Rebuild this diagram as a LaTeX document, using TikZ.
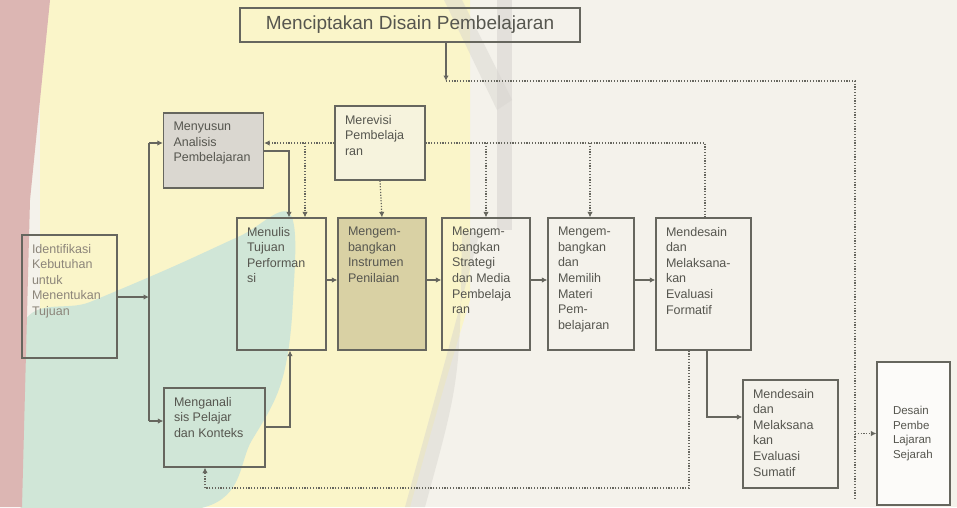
\documentclass[tikz,border=0pt]{standalone}
\usepackage{fontspec}
\setmainfont{Liberation Sans}
\usetikzlibrary{arrows.meta}

\definecolor{ink}{HTML}{66665E}
\definecolor{txt}{HTML}{56564F}
\definecolor{faint}{HTML}{8C857A}
\definecolor{paper}{HTML}{F4F2EB}
\definecolor{wmyellow}{HTML}{FAF5C9}
\definecolor{wmteal}{HTML}{D0E6D7}
\definecolor{wmpink}{HTML}{DCB6B3}
\definecolor{wmgrey}{HTML}{D6D3CE}
\definecolor{tanfill}{HTML}{D9D1A4}
\definecolor{greyfill}{HTML}{DAD7D0}

% top-aligned text block of a given width and height
\newcommand{\blk}[3]{\parbox[c][#2][t]{#1}{\raggedright #3}}

\begin{document}
\begin{tikzpicture}[x=1pt,y=-1pt,
  box/.style={draw=ink, line width=1.25pt, inner xsep=10pt, inner ysep=9pt,
              text=txt, font=\fontsize{12.5}{15.6}\selectfont},
  flow/.style={draw=ink, line width=1.2pt, -{Latex[length=5.5pt,width=5.5pt]}},
  loopline/.style={draw=ink, line width=1.2pt, dash pattern=on 1.2pt off 1.6pt},
  loopflow/.style={loopline, -{Latex[length=5.5pt,width=5.5pt]}}]

% page and watermark
\useasboundingbox (0,0) rectangle (957,507);
\fill[paper] (0,0) rectangle (957,507);
\fill[wmyellow] (40,0) -- (470,0) -- (470,300) .. controls (440,400) .. (410,507) -- (40,507) -- cycle;
\fill[wmteal] plot[smooth cycle, tension=0.6] coordinates
  {(20,330) (90,302) (170,268) (240,236) (290,214) (293,300) (282,380)
   (252,440) (205,507) (20,507)};
\fill[wmteal] (20,430) rectangle (200,507);
\fill[wmpink] (0,0) -- (50,0) -- (30,200) -- (22,507) -- (0,507) -- cycle;
\fill[wmgrey, opacity=0.55] (497,0) rectangle (512,230);
\fill[wmgrey, opacity=0.45] (462,232) .. controls (460,380) .. (425,507) -- (405,507) .. controls (440,380) .. (480,232) -- cycle;
\fill[wmgrey, opacity=0.45] (444,0) -- (462,0) -- (512,100) -- (497,110) -- cycle;

% boxes
\node[box, font=\fontsize{19}{22}\selectfont, minimum width=340pt, minimum height=34pt,
      inner sep=0pt] (top) at (410,25) {Menciptakan Disain Pembelajaran};
\node[box, text=faint] (idn) at (69.5,296.5)
  {\blk{75pt}{105pt}{Identifikasi\\Kebutuhan\\untuk\\Menentukan\\Tujuan}};
\node[box, fill=greyfill] (anl) at (213.5,150.5)
  {\blk{80pt}{57pt}{Menyusun\\Analisis\\Pembelajaran}};
\node[box, fill=paper!60!wmyellow] (rev) at (380,143)
  {\blk{70pt}{56pt}{Merevisi\\Pembelaja\\ran}};
\node[box] (tuj) at (281.5,284)
  {\blk{69pt}{114pt}{Menulis\\Tujuan\\Performan\\si}};
\node[box, fill=tanfill] (ins) at (382,284)
  {\blk{68pt}{114pt}{Mengem-\\bangkan\\Instrumen\\Penilaian}};
\node[box] (str) at (486,284)
  {\blk{68pt}{114pt}{Mengem-\\bangkan\\Strategi\\dan Media\\Pembelaja\\ran}};
\node[box] (mat) at (591,284)
  {\blk{66pt}{114pt}{Mengem-\\bangkan\\dan\\Memilih\\Materi\\Pem-\\belajaran}};
\node[box] (frm) at (703.5,284)
  {\blk{75pt}{114pt}{Mendesain\\dan\\Melaksana-\\kan\\Evaluasi\\Formatif}};
\node[box] (ana) at (214.5,427.5)
  {\blk{81pt}{61pt}{Menganali\\sis Pelajar\\dan Konteks}};
\node[box] (sum) at (790.5,434)
  {\blk{75pt}{90pt}{Mendesain\\dan\\Melaksana\\kan\\Evaluasi\\Sumatif}};
\node[box, fill=white!70!paper, inner xsep=0pt, inner ysep=0pt,
      font=\fontsize{11.5}{14.5}\selectfont, minimum height=143pt] (des) at (913.5,433.5)
  {\parbox{73pt}{\raggedright\leftskip=16pt Desain\\Pembe\\Lajaran\\Sejarah}};

% junction points
\coordinate (j0)  at (446,81);
\coordinate (jr)  at (855,81);
\coordinate (jrd) at (855,500);
\coordinate (jl)  at (149,297);
\coordinate (jlt) at (149,143);
\coordinate (jlb) at (149,421);
\coordinate (rv)  at (705,143);
\coordinate (fb)  at (689,488);
\coordinate (ab)  at (205,488);

% main flow
\draw[flow] (top.south -| j0) -- (j0);
\draw[flow] (idn.east |- jl) -- (jl);
\draw[ink, line width=1.2pt] (jlt) -- (jlb);
\draw[flow] (jlt) -- (anl.west |- jlt);
\draw[flow] (jlb) -- (ana.west |- jlb);
\draw[flow] (anl.east |- 0,151) -| (tuj.north -| 289,0);
\draw[flow] (ana.east |- 0,427) -| (tuj.south -| 290,0);
\draw[flow] (tuj.east |- 0,280) -- (ins.west |- 0,280);
\draw[flow] (ins.east |- 0,280) -- (str.west |- 0,280);
\draw[flow] (str.east |- 0,280) -- (mat.west |- 0,280);
\draw[flow] (mat.east |- 0,280) -- (frm.west |- 0,280);
\draw[flow] (frm.south -| 707,0) |- (sum.west |- 0,417);

% revision and feedback loops
\draw[loopline] (j0) -- (jr) -- (jrd);
\draw[loopflow] (jr |- des.west) -- (des.west);
\draw[loopflow] (rev.west |- 0,143) -- (anl.east |- 0,143);
\draw[loopflow] (305,143) -- (tuj.north -| 305,0);
\draw[loopflow] (rev.south) -- (ins.north);
\draw[loopline] (rev.east |- rv) -- (rv) -- (frm.north -| rv);
\draw[loopflow] (486,143) -- (str.north -| 486,0);
\draw[loopflow] (590,143) -- (mat.north -| 590,0);
\draw[loopline] (frm.south -| fb) -- (fb) -- (ab);
\draw[loopflow] (ab) -- (ana.south -| ab);
\end{tikzpicture}
\end{document}
